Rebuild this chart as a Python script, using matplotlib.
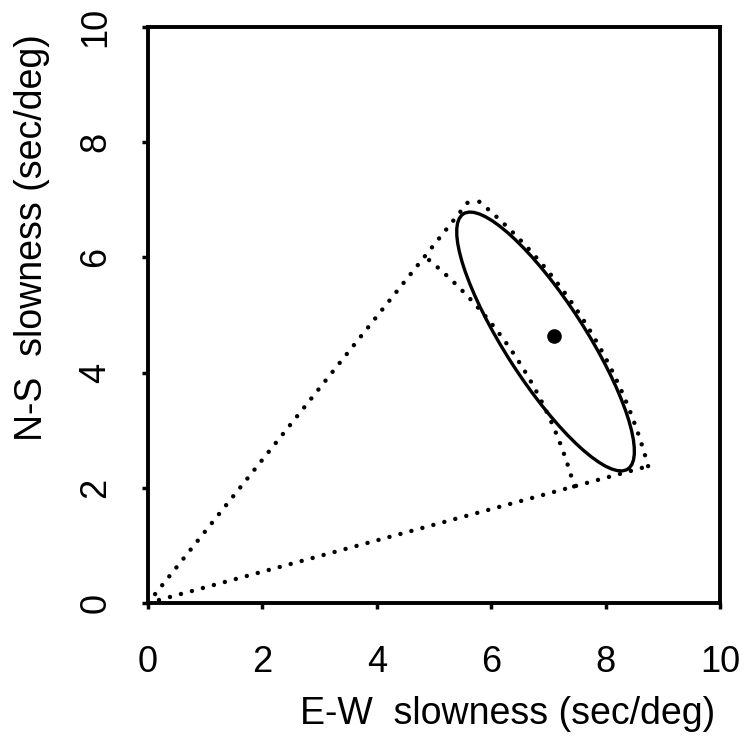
import numpy as np
import matplotlib
matplotlib.use("Agg")
import matplotlib.pyplot as plt
from matplotlib.patches import Ellipse

plt.rcParams['font.family'] = ['Liberation Sans', 'DejaVu Sans']

# ---- data ----
ticks = [0, 2, 4, 6, 8, 10]
tick_labels = ["0", "2", "4", "6", "8", "10"]

# annular sector (dotted): radii and bounding angles (deg, from E-W axis)
sector_r_inner = 7.72
sector_r_outer = 9.06
sector_theta_lo = 15.2
sector_theta_hi = 51.2

# error ellipse (solid)
ell_center = (6.95, 4.54)
ell_width = 5.28      # full major axis
ell_height = 1.40     # full minor axis
ell_angle = 123.0     # degrees

# best estimate point
best_x = [7.09]
best_y = [4.64]

fig = plt.figure(figsize=(7.44, 7.38), dpi=100)
ax = fig.add_axes([148/744, 1 - 603/738, (720-148)/744, (603-27)/738])

ax.set_xlim(0, 10)
ax.set_ylim(0, 10)

# dotted sector
lw_dot = 3.2
dot_kw = dict(color='black', lw=lw_dot, linestyle=(0, (0.01, 2.55)),
              dash_capstyle='round', solid_capstyle='round')
th_lo = np.deg2rad(sector_theta_lo)
th_hi = np.deg2rad(sector_theta_hi)
ax.plot([0, sector_r_outer*np.cos(th_hi)], [0, sector_r_outer*np.sin(th_hi)], **dot_kw)
ax.plot([0, sector_r_outer*np.cos(th_lo)], [0, sector_r_outer*np.sin(th_lo)], **dot_kw)
tt = np.linspace(th_lo, th_hi, 200)
ax.plot(sector_r_inner*np.cos(tt), sector_r_inner*np.sin(tt), **dot_kw)
ax.plot(sector_r_outer*np.cos(tt), sector_r_outer*np.sin(tt), **dot_kw)

# ellipse
ax.add_patch(Ellipse(ell_center, ell_width, ell_height, angle=ell_angle,
                     fill=False, edgecolor='black', lw=2.4))

# best point
ax.plot(best_x, best_y, 'o', color='black', markersize=9.5)

# axes styling
for s in ax.spines.values():
    s.set_linewidth(2.8)
ax.set_xticks(ticks)
ax.set_yticks(ticks)
ax.set_xticklabels(tick_labels, fontsize=26)
ax.set_yticklabels(tick_labels, fontsize=26, rotation=90, va='center')
ax.tick_params(axis='both', direction='out', length=4, width=2.5)
ax.tick_params(axis='x', pad=26)
ax.tick_params(axis='y', pad=21)

fig.text(508/744, 1 - 714/738, "E-W  slowness (sec/deg)", fontsize=27,
         ha='center', va='center')
fig.text(32/744, 1 - 238/738, "N-S  slowness (sec/deg)", fontsize=27,
         ha='center', va='center', rotation=90)

fig.savefig("out.png", dpi=100)
